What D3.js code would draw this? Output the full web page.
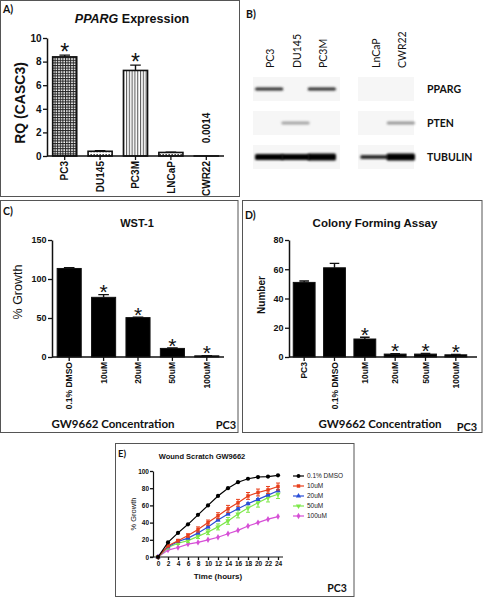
<!DOCTYPE html>
<html><head><meta charset="utf-8">
<script src="https://cdn.jsdelivr.net/npm/d3@7"></script>
<style>body{margin:0;background:#fff} svg{display:block}</style>
</head><body><svg id="c" width="483" height="598"></svg>
<script>
// ---- Panel A data ----
const aCats = ["PC3","DU145","PC3M","LNCaP","CWR22"];
const aVals = [8.4, 0.4, 7.25, 0.3, 0.0014];
const aErr  = [0.15, 0.05, 0.45, 0.03, 0];
const aSig  = [true,false,true,false,false];
const aTicks = [0,2,4,6,8,10];
const aPatterns = ["grid","dots","vstripe","dots","none"];
// ---- Panel B data (western blot band intensities) ----
const bLanes = ["PC3","DU145","PC3M","","LnCaP","CWR22"];
const bProteins = ["PPARG","PTEN","TUBULIN"];
const bIntensity = [
  [0.8,0.0,0.8,0,0.0,0.0],
  [0.0,0.3,0.0,0,0.0,0.35],
  [1.0,1.0,1.0,0,0.8,1.0]
];
const bThick = [
  [3,0,3,0,0,0],
  [0,3,0,0,0,3],
  [6,6,7,0,4,7]
];
// ---- Panel C data ----
const cCats = ["0.1% DMSO","10uM","20uM","50uM","100uM"];
const cVals = [113.5, 76.5, 50.5, 11, 1.5];
const cErr  = [1, 3.5, 0.6, 0.5, 0.3];
const cSig  = [false,true,true,true,true];
const cTicks = [0,50,100,150];
// ---- Panel D data ----
const dCats = ["PC3","0.1% DMSO","10uM","20uM","50uM","100uM"];
const dVals = [51, 61, 12.3, 2, 2, 1.5];
const dErr  = [1, 3, 1.2, 0.3, 0.4, 0.3];
const dSig  = [false,false,true,true,true,true];
const dTicks = [0,20,40,60,80];
// ---- Panel E data ----
const eTime = [0,2,4,6,8,10,12,14,16,18,20,22,24];
const eNames = ["0.1% DMSO","10uM","20uM","50uM","100uM"];
const eColors = ["#000000","#e8401c","#2b4fd8","#7ee84a","#d64fd6"];
const eSymbols = ["circle","square","triangle","triangleDown","diamond"];
const eDMSO = [0,17,28,38,49,60,71,80,87,91,93,93.5,95];
const e10  = [0,13,19,25,32,40,48,56,63,71,75,78,82];
const e20  = [0,12,18,22,28,35,43,50,56,62,67,72,77];
const e50  = [0,11,16,19,24,29,35,42,50,57,63,69,73];
const e100 = [0,8,11,15,17,20,23,27,31,36,40,44,47];
const eErrs = [
  [0,0.5,0.5,0.5,0.5,0.5,0.5,0.5,0.5,0.5,0.5,0.5,0.5],
  [0,1,1.5,2,3,3,3.5,4,4,4,4,4,4],
  [0,1,1,1,1,1,1,1,1,1,1,1,1],
  [0,1,1.5,2,2.5,3,3.5,4,4.5,5,5,5,5],
  [0,0.5,0.5,0.5,0.5,0.5,0.5,0.5,0.5,0.5,0.5,0.5,0.5]
];
const eTicksX = [0,2,4,6,8,10,12,14,16,18,20,22,24];
const eTicksY = [0,20,40,60,80,100];

const AR = "'Liberation Sans', Arial, sans-serif";
const CAL = "Lato, 'Open Sans', sans-serif";
const svg = d3.select("#c");
svg.append("rect").attr("width",483).attr("height",598).attr("fill","#fff");

// patterns
const defs = svg.append("defs");
const pg = defs.append("pattern").attr("id","grid").attr("patternUnits","userSpaceOnUse").attr("width",2.6).attr("height",2.6);
pg.append("rect").attr("width",2.6).attr("height",2.6).attr("fill","#fff");
pg.append("path").attr("d","M0,0.5H2.6M0.5,0V2.6").attr("stroke","#222").attr("stroke-width",1);
const pv = defs.append("pattern").attr("id","vstripe").attr("patternUnits","userSpaceOnUse").attr("width",2.8).attr("height",4);
pv.append("rect").attr("width",2.8).attr("height",4).attr("fill","#fff");
pv.append("path").attr("d","M0.6,0V4").attr("stroke","#333").attr("stroke-width",0.9);
const pd = defs.append("pattern").attr("id","dots").attr("patternUnits","userSpaceOnUse").attr("width",3).attr("height",3);
pd.append("rect").attr("width",3).attr("height",3).attr("fill","#fff");
pd.append("rect").attr("x",0.5).attr("y",1).attr("width",1.3).attr("height",1.3).attr("fill","#222");
defs.append("filter").attr("id","blur").attr("x","-20%").attr("y","-100%").attr("width","140%").attr("height","300%")
  .append("feGaussianBlur").attr("stdDeviation",0.8);

// panel frames
const frames = [[0.5,0.5,239,196],[0.5,200.5,237.5,232],[242.5,200.5,239.5,232],[115.5,443.5,238.5,153]];
svg.selectAll("rect.frame").data(frames).join("rect").attr("class","frame")
  .attr("x",d=>d[0]).attr("y",d=>d[1]).attr("width",d=>d[2]).attr("height",d=>d[3])
  .attr("fill","none").attr("stroke","#555").attr("stroke-width",1);

function label(x,y,t,size){
  svg.append("text").attr("x",x).attr("y",y).text(t).attr("font-family",CAL).attr("font-weight","bold")
    .attr("font-size",size).attr("fill","#111");
}
label(3,13,"A)",10.5); label(246,18,"B)",10.5); label(3,215,"C)",10.5); label(245,219,"D)",10.5); label(118,457,"E)",9.5);

function styleAxis(g, fs){
  g.selectAll("path.domain").attr("stroke","#111").attr("stroke-width",1.5);
  g.selectAll(".tick line").attr("stroke","#111").attr("stroke-width",1.3);
  g.selectAll("text").attr("font-family",AR).attr("font-weight","bold").attr("font-size",fs).attr("fill","#111");
}

function barChart(o){
  const x = d3.scaleBand().domain(o.cats).range(o.xr).paddingInner(o.pi).paddingOuter(o.pi/2);
  const y = d3.scaleLinear().domain(o.yd).range(o.yr);
  const g = svg.append("g");
  const ya = g.append("g").attr("transform",`translate(${o.xr[0]},0)`)
    .call(d3.axisLeft(y).tickValues(o.ticks).tickSize(4).tickSizeOuter(0).tickPadding(1.5));
  styleAxis(ya, o.tfs);
  g.selectAll("rect.bar").data(o.vals).join("rect")
    .attr("x",(d,i)=>x(o.cats[i])).attr("width",x.bandwidth())
    .attr("y",d=>y(d)).attr("height",d=>y(0)-y(d))
    .attr("fill",(d,i)=>o.fill(i)).attr("stroke","#111").attr("stroke-width",o.sw);
  o.vals.forEach((v,i)=>{
    const e=o.err[i];
    const cx=x(o.cats[i])+x.bandwidth()/2, cw=x.bandwidth()*0.22;
    if(e) g.append("path").attr("d",`M${cx},${y(v)}V${y(v+e)}M${cx-cw},${y(v+e)}H${cx+cw}`)
      .attr("stroke","#111").attr("stroke-width",1.4).attr("fill","none");
    if(o.sig[i]) g.append("text").attr("x",cx).attr("y",y(v+e)+o.starOff).attr("text-anchor","middle")
      .attr("font-family",AR).attr("font-size",o.starSize).attr("fill","#111").text("*");
  });
  g.append("path").attr("d",`M${o.xr[0]},${y(0)}H${o.xEnd}`).attr("stroke","#111").attr("stroke-width",1.5);
  o.cats.forEach((c,i)=>{
    const cx=x(c)+x.bandwidth()/2;
    g.append("path").attr("d",`M${cx},${y(0)}V${y(0)+4}`).attr("stroke","#111").attr("stroke-width",1.3);
    g.append("text").attr("transform",`translate(${cx+o.xfs*0.36},${y(0)+5}) rotate(-90)`)
      .attr("text-anchor","end").attr("font-family",AR).attr("font-weight","bold").attr("font-size",o.xfs)
      .attr("fill","#111").text(c);
  });
  return {x,y,g};
}

// ---------- Panel A ----------
const A = barChart({cats:aCats, vals:aVals, err:aErr, sig:aSig, ticks:aTicks, xr:[47,224], xEnd:224, pi:0.32,
  yd:[0,10], yr:[156,38], tfs:10, xfs:10, sw:1.6, starOff:5, starSize:23,
  fill:i=> aPatterns[i]==="none" ? "#fff" : `url(#${aPatterns[i]})`});
A.g.append("text").attr("transform",`translate(${A.x("CWR22")+A.x.bandwidth()/2+4},${128}) rotate(-90)`)
  .attr("text-anchor","middle").attr("font-family",AR).attr("font-weight","bold").attr("font-size",10).attr("fill","#111").text("0.0014");
svg.append("text").attr("transform","translate(25,103) rotate(-90)").attr("text-anchor","middle")
  .attr("font-family",AR).attr("font-weight","bold").attr("font-size",14).attr("fill","#111").text("RQ (CASC3)");
const tA = svg.append("text").attr("x",132).attr("y",23).attr("text-anchor","middle").attr("font-family",AR)
  .attr("font-weight","bold").attr("font-size",12.5).attr("fill","#111");
tA.append("tspan").attr("font-style","italic").text("PPARG");
tA.append("tspan").text(" Expression");

// ---------- Panel B (western blot) ----------
const bx = d3.scaleBand().domain(bLanes).range([257,415]);
const by = d3.scaleBand().domain(bProteins).range([72,174]);
const blotGroups = [[253,340],[358,414]];
bProteins.forEach((p,r)=>{
  blotGroups.forEach(gr=>{
    svg.append("rect").attr("x",gr[0]).attr("y",by(p)+5).attr("width",gr[1]-gr[0]).attr("height",by.bandwidth()-10)
      .attr("fill","#f6f6f6");
  });
  bLanes.forEach((l,c)=>{
    const v=bIntensity[r][c]; if(!v) return;
    const g = Math.round(235*(1-v));
    svg.append("rect").attr("x",bx(l)-2).attr("width",bx.bandwidth()+2)
      .attr("y",by(p)+by.bandwidth()/2-bThick[r][c]/2).attr("height",bThick[r][c])
      .attr("rx",1.5).attr("fill",`rgb(${g},${g},${g})`).attr("filter","url(#blur)");
  });
  svg.append("text").attr("x",427).attr("y",by(p)+by.bandwidth()/2+4).text(p)
    .attr("font-family",CAL).attr("font-weight","bold").attr("font-size",10.5).attr("fill","#111");
});
bLanes.forEach(l=>{ if(!l) return;
  svg.append("text").attr("transform",`translate(${bx(l)+bx.bandwidth()/2+4},68) rotate(-90)`)
    .attr("font-family",CAL).attr("font-size",10.5).attr("fill","#111").text(l);
});

// ---------- Panel C ----------
const C = barChart({cats:cCats, vals:cVals, err:cErr, sig:cSig, ticks:cTicks, xr:[52,224], xEnd:224, pi:0.3,
  yd:[0,150], yr:[357,240], tfs:9, xfs:8.5, sw:1, starOff:4.5, starSize:21, fill:()=>"#000"});
svg.append("text").attr("transform","translate(22,292) rotate(-90)").attr("text-anchor","middle")
  .attr("font-family",AR).attr("font-size",12.5).attr("fill","#111").text("% Growth");
svg.append("text").attr("x",137).attr("y",227).attr("text-anchor","middle").attr("font-family",AR)
  .attr("font-weight","bold").attr("font-size",11).attr("fill","#111").text("WST-1");
svg.append("text").attr("x",113).attr("y",428).attr("text-anchor","middle").attr("font-family",CAL)
  .attr("font-weight","bold").attr("font-size",11.5).attr("fill","#111").text("GW9662 Concentration");
svg.append("text").attr("x",226).attr("y",429).attr("text-anchor","middle").attr("font-family",CAL)
  .attr("font-weight","bold").attr("font-size",11).attr("fill","#111").text("PC3");

// ---------- Panel D ----------
const D = barChart({cats:dCats, vals:dVals, err:dErr, sig:dSig, ticks:dTicks, xr:[289,471], xEnd:477, pi:0.28,
  yd:[0,80], yr:[357,240], tfs:9, xfs:8.5, sw:1, starOff:4.5, starSize:21, fill:()=>"#000"});
svg.append("text").attr("transform","translate(265,295) rotate(-90)").attr("text-anchor","middle")
  .attr("font-family",AR).attr("font-weight","bold").attr("font-size",10).attr("fill","#111").text("Number");
svg.append("text").attr("x",375).attr("y",227).attr("text-anchor","middle").attr("font-family",AR)
  .attr("font-weight","bold").attr("font-size",11.5).attr("fill","#111").text("Colony Forming Assay");
svg.append("text").attr("x",380).attr("y",428).attr("text-anchor","middle").attr("font-family",CAL)
  .attr("font-weight","bold").attr("font-size",11.5).attr("fill","#111").text("GW9662 Concentration");
svg.append("text").attr("x",467).attr("y",431).attr("text-anchor","middle").attr("font-family",CAL)
  .attr("font-weight","bold").attr("font-size",11).attr("fill","#111").text("PC3");

// ---------- Panel E ----------
const xE = d3.scaleLinear().domain([0,24]).range([158,278]);
const yE = d3.scaleLinear().domain([0,100]).range([557,471]);
const gE = svg.append("g");
const eyA = gE.append("g").attr("transform","translate(153,0)")
  .call(d3.axisLeft(yE).tickValues(eTicksY).tickSize(3).tickSizeOuter(0).tickPadding(1));
styleAxis(eyA,6.5);
eyA.selectAll("path.domain").attr("stroke-width",1.2);
const exA = gE.append("g").attr("transform","translate(0,557)")
  .call(d3.axisBottom(xE).tickValues(eTicksX).tickSize(3).tickSizeOuter(0).tickPadding(1.5));
styleAxis(exA,6.5);
exA.select("path.domain").attr("d","M150,0H283").attr("stroke-width",1.2);
const eData = [eDMSO,e10,e20,e50,e100];
const symMap = {circle:d3.symbolCircle, square:d3.symbolSquare, triangle:d3.symbolTriangle, diamond:d3.symbolDiamond};
function sym(name, size){
  if(name==="triangleDown") return d3.symbol(d3.symbolTriangle,size)();
  return d3.symbol(symMap[name],size)();
}
eData.slice().reverse().forEach((ser,ri)=>{
  const k = eData.length-1-ri;
  const col = eColors[k];
  const line = d3.line().x((d,i)=>xE(eTime[i])).y(d=>yE(d));
  gE.append("path").attr("d",line(ser)).attr("fill","none").attr("stroke",col).attr("stroke-width",1.2);
  ser.forEach((v,i)=>{
    const e=eErrs[k][i];
    if(e>0.8){
      const cx=xE(eTime[i]);
      gE.append("path").attr("d",`M${cx},${yE(v-e)}V${yE(v+e)}M${cx-2},${yE(v-e)}H${cx+2}M${cx-2},${yE(v+e)}H${cx+2}`)
        .attr("stroke",col).attr("stroke-width",1).attr("fill","none");
    }
    gE.append("path").attr("d",sym(eSymbols[k], k===0?14:12))
      .attr("transform",`translate(${xE(eTime[i])},${yE(v)})${eSymbols[k]==="triangleDown"?" rotate(180)":""}`)
      .attr("fill",col);
  });
  const ly = 476 + k*10;
  gE.append("path").attr("d",`M293,${ly}H304`).attr("stroke",col).attr("stroke-width",1.2);
  gE.append("path").attr("d",sym(eSymbols[k],12)).attr("transform",`translate(298.5,${ly})${eSymbols[k]==="triangleDown"?" rotate(180)":""}`).attr("fill",col);
  gE.append("text").attr("x",307).attr("y",ly+2.3).text(eNames[k]).attr("font-family",AR)
    .attr("font-size",6.5).attr("fill","#222");
});
svg.append("text").attr("x",202).attr("y",459).attr("text-anchor","middle").attr("font-family",AR)
  .attr("font-weight","bold").attr("font-size",7.5).attr("fill","#111").text("Wound Scratch GW9662");
svg.append("text").attr("transform","translate(136,514) rotate(-90)").attr("text-anchor","middle")
  .attr("font-family",AR).attr("font-size",7.5).attr("fill","#111").text("% Growth");
svg.append("text").attr("x",218).attr("y",579).attr("text-anchor","middle").attr("font-family",AR)
  .attr("font-weight","bold").attr("font-size",8).attr("fill","#111").text("Time (hours)");
svg.append("text").attr("x",337).attr("y",592).attr("text-anchor","middle").attr("font-family",CAL)
  .attr("font-weight","bold").attr("font-size",10.5).attr("fill","#111").text("PC3");
</script></body></html>
